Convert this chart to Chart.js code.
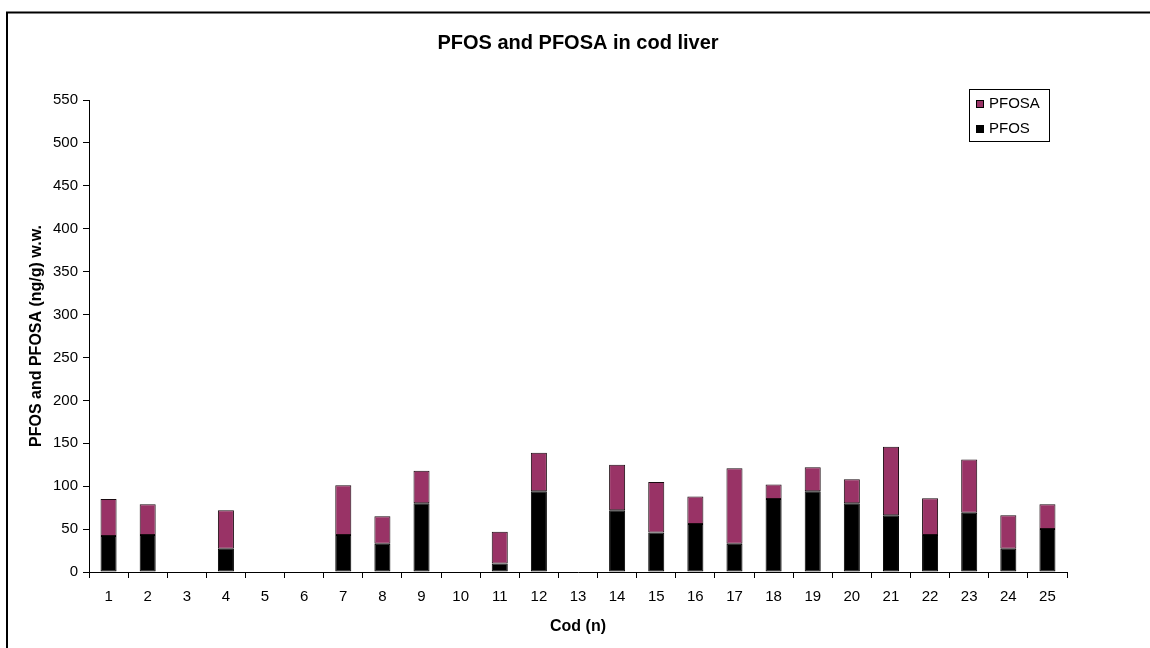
<!DOCTYPE html>
<html><head><meta charset="utf-8">
<script src="https://cdn.jsdelivr.net/npm/chart.js@4"></script>
<style>html,body{margin:0;padding:0;background:#fff;}</style>
</head><body>
<canvas id="c" width="1150" height="648"></canvas>
<script>
const categories = ['1','2','3','4','5','6','7','8','9','10','11','12','13','14','15','16','17','18','19','20','21','22','23','24','25'];
const pfos  = [42, 43, null, 27, null, null, 43, 33, 80, null, 10, 94, null, 72, 46, 56, 33, 85, 94, 80, 66, 43, 69, 27, 50];
const pfosa = [43, 36, null, 45, null, null, 58, 32, 38, null, 37, 45, null, 53, 59, 32, 88, 17, 28, 28, 80, 43, 62, 39, 29];
const yMin = 0, yMax = 550, yStep = 50;
const titleText = 'PFOS and PFOSA in cod liver';
const xTitle = 'Cod (n)';
const yTitle = 'PFOS and PFOSA (ng/g) w.w.';

const FONT = "'Liberation Sans', Arial, sans-serif";
Chart.defaults.font.family = FONT;
Chart.defaults.color = '#000';

const framePlugin = {
  id: 'frame',
  beforeDraw(chart) {
    const ctx = chart.ctx;
    ctx.save();
    ctx.fillStyle = '#fff';
    ctx.fillRect(0, 0, chart.width, chart.height);
    ctx.strokeStyle = '#000';
    ctx.lineWidth = 2;
    ctx.beginPath();
    ctx.moveTo(7, chart.height + 5);
    ctx.lineTo(7, 12.5);
    ctx.lineTo(chart.width + 5, 12.5);
    ctx.stroke();
    ctx.restore();
  }
};

const legendPlugin = {
  id: 'boxLegend',
  afterDraw(chart) {
    const ctx = chart.ctx;
    const ds = chart.data.datasets.slice().reverse();
    const x0 = 969.5, y0 = 89.5, w = 80, h = 52;
    ctx.save();
    ctx.fillStyle = '#fff';
    ctx.fillRect(x0, y0, w, h);
    ctx.strokeStyle = '#000';
    ctx.lineWidth = 1;
    ctx.strokeRect(x0, y0, w, h);
    ctx.font = '15px ' + FONT;
    ctx.textBaseline = 'middle';
    ds.forEach((d, i) => {
      const cy = 104 + i * 25;
      ctx.fillStyle = d.backgroundColor;
      ctx.fillRect(976, cy - 4, 8, 8);
      ctx.strokeStyle = '#000';
      ctx.strokeRect(976.5, cy - 3.5, 7, 7);
      ctx.fillStyle = '#000';
      ctx.fillText(d.label, 989, cy);
    });
    ctx.restore();
  }
};

new Chart(document.getElementById('c'), {
  type: 'bar',
  data: {
    labels: categories,
    datasets: [
      { label: 'PFOS', data: pfos, backgroundColor: '#000000', borderColor: '#000000', borderWidth: 1, borderSkipped: false,
        categoryPercentage: 1.0, barPercentage: 0.41 },
      { label: 'PFOSA', data: pfosa, backgroundColor: '#993366', borderColor: '#1a0a10', borderWidth: 1, borderSkipped: false,
        categoryPercentage: 1.0, barPercentage: 0.41 }
    ]
  },
  options: {
    responsive: false,
    animation: false,
    layout: { padding: { left: 10, right: 83, top: 0, bottom: 0 } },
    plugins: {
      legend: { display: false },
      tooltip: { enabled: false },
      title: {
        display: true, text: titleText, fullSize: false,
        font: { size: 20, weight: 'bold', lineHeight: 1.2 },
        color: '#000',
        padding: { top: 31, bottom: 45 }
      }
    },
    scales: {
      x: {
        stacked: true,
        afterFit(s) { s.height = 76; },
        grid: { display: true, drawOnChartArea: false, drawTicks: true, tickLength: 6, color: '#000', offset: true },
        border: { display: true, color: '#000', width: 1 },
        ticks: { color: '#000', font: { size: 15 }, padding: 10, maxRotation: 0, autoSkip: false },
        title: { display: true, text: xTitle, color: '#000', font: { size: 16, weight: 'bold', lineHeight: 1.2 }, padding: { top: 4, bottom: 11.4 } }
      },
      y: {
        stacked: true,
        min: yMin, max: yMax,
        afterFit(s) { s.width = 79; },
        grid: { display: true, drawOnChartArea: false, drawTicks: true, tickLength: 6, color: '#000' },
        border: { display: true, color: '#000', width: 1 },
        ticks: { stepSize: yStep, color: '#000', font: { size: 15 }, padding: 5 },
        title: { display: true, text: yTitle, color: '#000', font: { size: 16, weight: 'bold', lineHeight: 1.2 }, padding: { top: 16.5, bottom: 0 } }
      }
    }
  },
  plugins: [framePlugin, legendPlugin]
});
</script>
</body></html>
